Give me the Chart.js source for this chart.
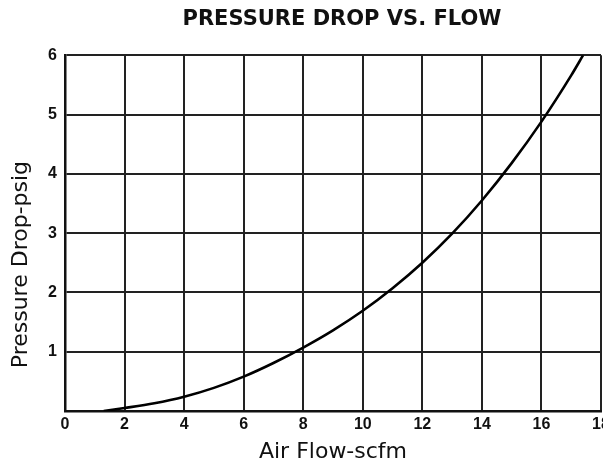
<!DOCTYPE html>
<html>
<head>
<meta charset="utf-8">
<script src="https://cdn.jsdelivr.net/npm/chart.js@4/dist/chart.umd.min.js"></script>
<style>
  html, body { margin: 0; padding: 0; background: #fff; overflow: hidden; width: 603px; height: 464px; }
  canvas { display: block; }
</style>
</head>
<body>
<canvas id="c" width="684" height="464"></canvas>
<script>
const chartTitle = "PRESSURE DROP VS. FLOW";
const xAxisTitle = "Air Flow-scfm";
const yAxisTitle = "Pressure Drop-psig";
const flowValues     = [1.3, 2, 3, 4, 5, 6, 7, 8, 9, 10, 11, 12, 13, 14, 15, 16, 17, 17.4];
const pressureValues = [0, 0.05, 0.13, 0.24, 0.39, 0.58, 0.81, 1.07, 1.36, 1.69, 2.07, 2.5, 2.99, 3.55, 4.18, 4.88, 5.66, 6.0];
const xTickValues = [0, 2, 4, 6, 8, 10, 12, 14, 16, 18];
const yTickValues = [1, 2, 3, 4, 5, 6];

const points = flowValues.map((x, i) => ({ x: x, y: pressureValues[i] }));

new Chart(document.getElementById('c'), {
  type: 'scatter',
  data: {
    datasets: [{
      data: points,
      showLine: true,
      borderColor: '#000',
      borderWidth: 2.6,
      pointRadius: 0,
      cubicInterpolationMode: 'monotone',
      fill: false
    }]
  },
  options: {
    responsive: false,
    devicePixelRatio: 1,
    animation: false,
    layout: { padding: 0 },
    plugins: {
      legend: { display: false },
      tooltip: { enabled: false },
      title: {
        display: true,
        text: chartTitle,
        color: '#111',
        font: { family: 'DejaVu Sans', size: 21, weight: 'bold', lineHeight: 1.2 },
        padding: { top: 7, bottom: 23 }
      }
    },
    scales: {
      x: {
        type: 'linear',
        min: 0, max: 18,
        afterBuildTicks: s => { s.ticks = xTickValues.map(v => ({ value: v })); },
        afterFit: s => { s.height = 53; },
        grid: { color: '#222', lineWidth: 2, drawTicks: false },
        border: { color: '#111', width: 2.5 },
        ticks: {
          color: '#111', padding: 4, maxRotation: 0, autoSkip: false,
          font: { family: 'Liberation Sans', size: 16, weight: 'bold' }
        },
        title: {
          display: true, text: xAxisTitle, color: '#111',
          font: { family: 'DejaVu Sans', size: 22, lineHeight: 1 },
          padding: { top: 0, bottom: 1 }
        }
      },
      y: {
        type: 'linear',
        position: 'left',
        min: 0, max: 6,
        afterBuildTicks: s => { s.ticks = [0].concat(yTickValues).map(v => ({ value: v })); },
        afterFit: s => { s.width = 65; },
        grid: { color: '#222', lineWidth: 2, drawTicks: false },
        border: { color: '#111', width: 2.5 },
        ticks: {
          color: '#111', padding: 8,
          font: { family: 'Liberation Sans', size: 16, weight: 'bold' },
          callback: v => (v === 0 ? '' : String(v))
        },
        title: {
          display: true, text: yAxisTitle + '         ', color: '#111',
          font: { family: 'DejaVu Sans', size: 22, lineHeight: 1 },
          padding: { top: 10, bottom: 0 }
        }
      },
      y2: {
        type: 'linear',
        position: 'right',
        min: 0, max: 6,
        display: true,
        afterFit: s => { s.width = 83; },
        grid: { display: false, drawOnChartArea: false },
        border: { display: false },
        ticks: { display: false }
      }
    }
  }
});
</script>
</body>
</html>
